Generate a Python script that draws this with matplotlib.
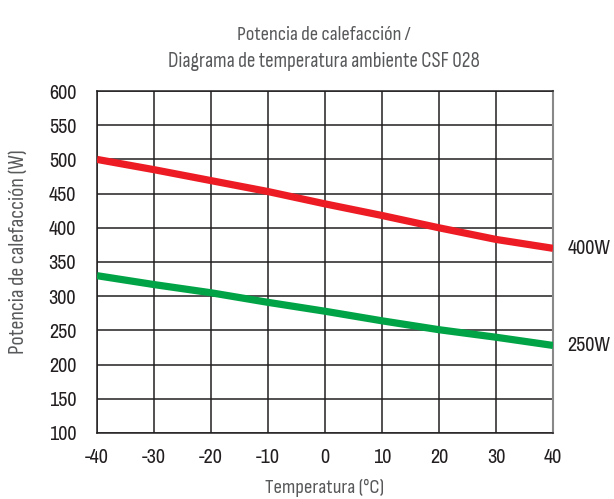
import matplotlib
matplotlib.use("Agg")
import matplotlib.pyplot as plt
from matplotlib import font_manager

temps = [-40, -30, -20, -10, 0, 10, 20, 30, 40]
p400 = [500, 485, 469, 453, 435, 418, 400, 383, 370]
p250 = [330, 317, 305, 291, 278, 264, 251, 240, 228]
series_labels = ["400W", "250W"]
xticks = [-40, -30, -20, -10, 0, 10, 20, 30, 40]
yticks = [100, 150, 200, 250, 300, 350, 400, 450, 500, 550, 600]

installed = {f.name for f in font_manager.fontManager.ttflist}

def pick(cands):
    for c in cands:
        if c in installed:
            return c
    return "Liberation Sans"

tick_font = pick(["Liberation Sans Narrow", "Arial Narrow", "Arimo Narrow", "Archivo Narrow",
                  "PT Sans Narrow", "Roboto Condensed", "Sofia Sans Semi Condensed"])
title_font = pick(["Sofia Sans Condensed", "Roboto Condensed", "Saira SemiCondensed"])

fig = plt.figure(figsize=(6.14, 4.99), dpi=100)
ax = fig.add_axes([0.158, 0.1323, 0.7427, 0.6853])
ax.plot(temps, p400, color="#ed1c24", lw=5.2, solid_capstyle="butt", zorder=3)
ax.plot(temps, p250, color="#00a447", lw=5.2, solid_capstyle="butt", zorder=3)
ax.set_xlim(-40, 40)
ax.set_ylim(100, 600)
ax.set_xticks(xticks)
ax.set_yticks(yticks)
ax.set_xticklabels([str(t) for t in xticks], fontfamily=tick_font, fontsize=14.5, color="#231f20")
ax.set_yticklabels([str(t) for t in yticks], fontfamily=tick_font, fontsize=14.5, color="#231f20")
ax.tick_params(axis="x", length=0, pad=11)
ax.tick_params(axis="y", length=0, pad=15)
ax.grid(True, color="#231f20", lw=1.1)
for s in ax.spines.values():
    s.set_color("#231f20")
    s.set_linewidth(1.1)
ax.spines["right"].set_color("#888888")
ax.spines["right"].set_linewidth(1.5)

ax.text(1.031, p400[-1], series_labels[0], transform=ax.get_yaxis_transform(),
        fontfamily=tick_font, fontsize=14.5, va="center", ha="left", color="#231f20")
ax.text(1.031, p250[-1], series_labels[1], transform=ax.get_yaxis_transform(),
        fontfamily=tick_font, fontsize=14.5, va="center", ha="left", color="#231f20")

gray = "#58595b"
fig.canvas.draw()
renderer = fig.canvas.get_renderer()

def fit_text(x, y, s, target_px, rotation=0, family=title_font):
    t = fig.text(x, y, s, ha="center", va="center", rotation=rotation,
                 fontfamily=family, fontsize=12, color=gray)
    bb = t.get_window_extent(renderer)
    w = bb.height if rotation else bb.width
    t.set_fontsize(12 * target_px / w)
    return t

fit_text(0.528, 0.930, "Potencia de calefacción /", 174)
fit_text(0.528, 0.876, "Diagrama de temperatura ambiente CSF 028", 312)
fit_text(0.528, 0.022, "Temperatura (°C)", 119)
fit_text(0.030, 0.495, "Potencia de calefacción (W)", 205, rotation=90)

fig.savefig("out.png", dpi=100)
